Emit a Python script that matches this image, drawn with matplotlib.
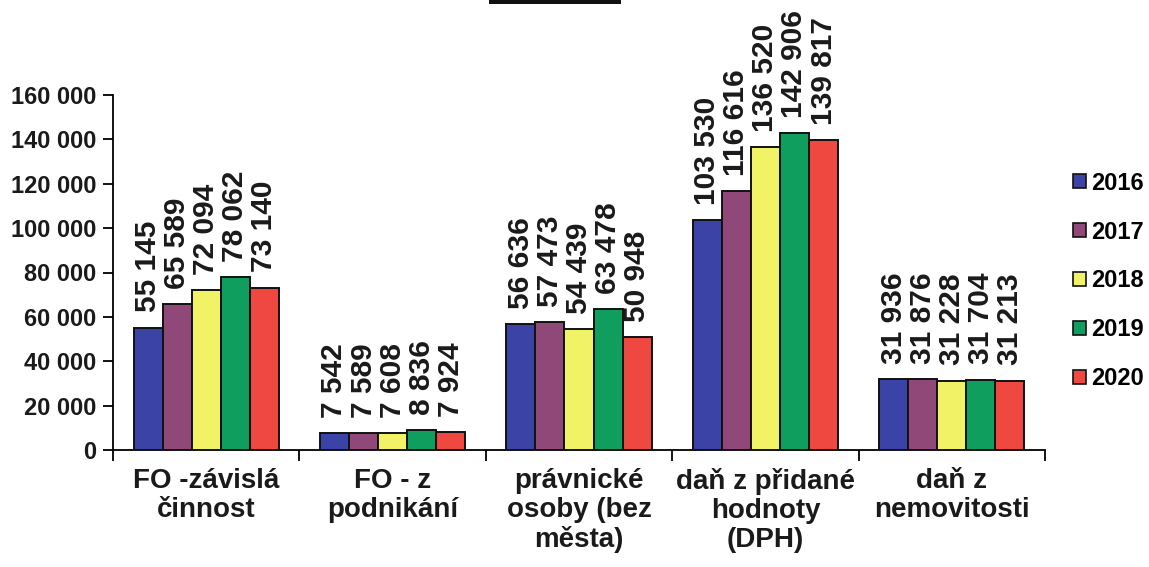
import matplotlib
matplotlib.use("Agg")
import matplotlib.pyplot as plt
from matplotlib.patches import Patch, Rectangle
import numpy as np

plt.rcParams['font.family'] = ['Liberation Sans', 'DejaVu Sans']
plt.rcParams['font.weight'] = 'bold'

categories = ["FO -závislá\nčinnost", "FO - z\npodnikání", "právnické\nosoby (bez\nměsta)",
              "daň z přidané\nhodnoty\n(DPH)", "daň z\nnemovitosti"]
years = ["2016", "2017", "2018", "2019", "2020"]
values = {
    "2016": [55145, 7542, 56636, 103530, 31936],
    "2017": [65589, 7589, 57473, 116616, 31876],
    "2018": [72094, 7608, 54439, 136520, 31228],
    "2019": [78062, 8836, 63478, 142906, 31704],
    "2020": [73140, 7924, 50948, 139817, 31213],
}
colors = ["#3b44a6", "#904878", "#f2f266", "#0f9e5e", "#ee4840"]
yticks = [0, 20000, 40000, 60000, 80000, 100000, 120000, 140000, 160000]

W, H = 1149, 567
fig = plt.figure(figsize=(W / 100, H / 100), dpi=100)
ax = fig.add_axes([113 / W, 1 - 450 / H, (1045 - 113) / W, 355 / H])

x = np.arange(len(categories))
bw = 0.156
for i, (yr, c) in enumerate(zip(years, colors)):
    xs = x + (i - 2) * bw
    ax.bar(xs, values[yr], width=bw, color=c, edgecolor="#111111", linewidth=1.4, label=yr, zorder=3)
    for xi, v in zip(xs, values[yr]):
        ax.annotate(f"{v:,}".replace(",", " "), (xi, v), xytext=(0, 11), textcoords="offset points",
                    rotation=90, ha="center", va="bottom", fontsize=21.5, fontweight="bold", color="#1a1a1a")

ax.set_xlim(-0.5, len(categories) - 0.5)
ax.set_ylim(0, 160000)
ax.set_yticks(yticks)
ax.set_yticklabels([f"{t:,}".replace(",", " ") for t in yticks], fontsize=17, fontweight="bold", color="#1a1a1a")
ax.set_xticks(np.arange(-0.5, len(categories)), labels=[""] * (len(categories) + 1))
ax.set_xticks(x, labels=categories, minor=True)
ax.tick_params(axis="x", which="minor", length=0, pad=13, labelsize=20)
ax.tick_params(axis="x", which="major", length=8, width=1.3, direction="out")
ax.tick_params(axis="y", length=7, width=1.3, direction="out", pad=5)
for lab in ax.get_xticklabels(minor=True):
    lab.set_fontweight("bold")
    lab.set_verticalalignment("top")
    lab.set_linespacing(1.15)
    lab.set_color("#1a1a1a")
ax.spines["top"].set_visible(False)
ax.spines["right"].set_visible(False)
ax.spines["left"].set_linewidth(1.3)
ax.spines["bottom"].set_linewidth(1.3)

handles = [Patch(facecolor=c, edgecolor="#111111", linewidth=1.2) for c in colors]
fig.legend(handles, years, loc="center left", bbox_to_anchor=(1073 / W, 1 - 281 / H),
           frameon=False, prop={"size": 17, "weight": "bold"}, handlelength=0.55, handleheight=0.55,
           handletextpad=0.2, labelspacing=1.1, borderpad=0, borderaxespad=0)

# partial framed title box cut at top edge
fig.add_artist(Rectangle((489 / W, 1 - 4 / H), (621 - 489) / W, 4 / H, transform=fig.transFigure,
                         facecolor="#111111", edgecolor="none"))

fig.savefig("out.png", dpi=100)
